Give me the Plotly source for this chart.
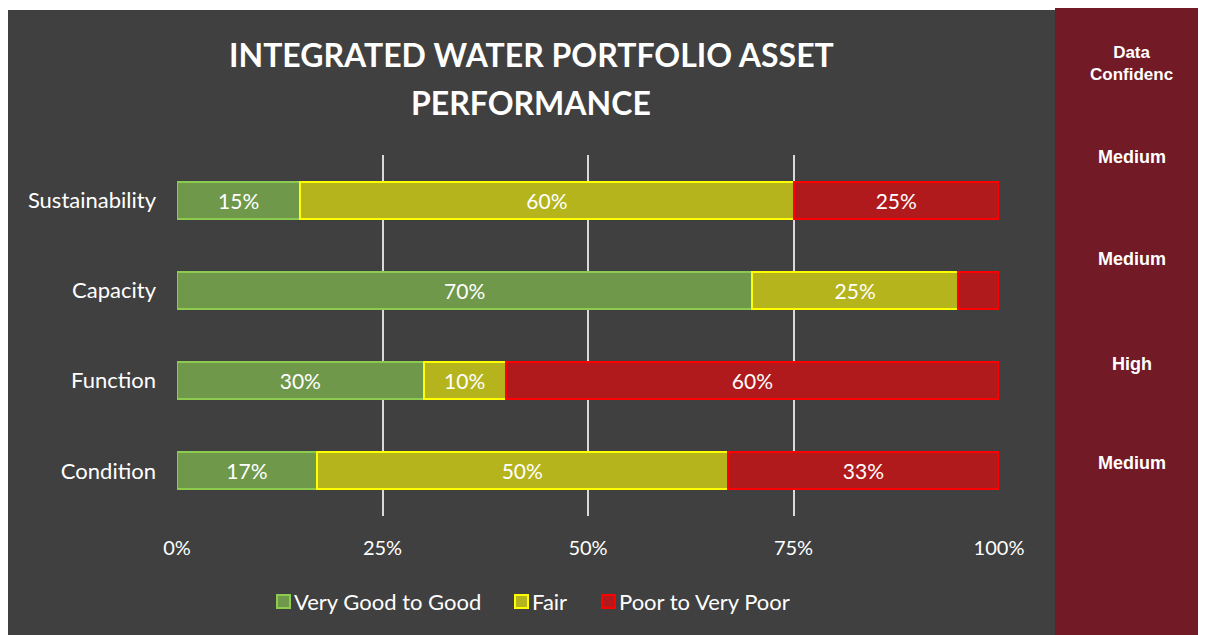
import plotly.graph_objects as go

categories = ["Sustainability", "Capacity", "Function", "Condition"]
good = [15, 70, 30, 17]
fair = [60, 25, 10, 50]
poor = [25, 5, 60, 33]
poor_labels = ["25%", "", "60%", "33%"]
series_names = ["Very Good to Good", "Fair", "Poor to Very Poor"]
confidence_title = "Data<br>Confidenc"
confidence = ["Medium", "Medium", "High", "Medium"]
tick_vals = [0, 25, 50, 75, 100]
tick_text = ["0%", "25%", "50%", "75%", "100%"]

OFF = 8  # page body margin
W, H = 1206 - OFF, 635 - OFF
L, T = 177 - OFF, 155 - OFF
R = W - (999 - OFF)
B = H - (516 - OFF)
pw, ph = W - L - R, H - T - B


def px_x(x):  # reference screen x -> paper
    return (x - OFF - L) / pw


def px_y(y):  # reference screen y -> paper
    return (H - B - (y - OFF)) / ph


FONT = "Lato"
fills = ["#70984A", "#B5B41C", "#B01A1C"]
lines = ["#8CCB4E", "#FFFF00", "#FF0000"]

fig = go.Figure()
data = [
    (good, [f"{v}%" for v in good]),
    (fair, [f"{v}%" for v in fair]),
    (poor, poor_labels),
]
for name, (vals, labels), fill, line in zip(series_names, data, fills, lines):
    fig.add_trace(go.Bar(
        y=categories, x=vals, name=name, orientation="h",
        marker=dict(color=fill, line=dict(color=line, width=2)),
        text=labels, textposition="inside", insidetextanchor="middle",
        textfont=dict(color="white", size=21, family=FONT),
        constraintext="none", showlegend=False,
    ))

shapes = [
    dict(type="rect", xref="paper", yref="paper", x0=px_x(8), x1=px_x(1055),
         y0=px_y(10), y1=px_y(0), fillcolor="white", line_width=0, layer="below"),
    dict(type="rect", xref="paper", yref="paper", x0=px_x(1055), x1=px_x(1210),
         y0=px_y(640), y1=px_y(0), fillcolor="#731A27", line_width=0, layer="below"),
]

annotations = []
# title
for txt, yy in [("INTEGRATED WATER PORTFOLIO ASSET", 54), ("PERFORMANCE", 102)]:
    annotations.append(dict(text=f"<b>{txt}</b>", x=px_x(531), y=px_y(yy), xref="paper", yref="paper",
                            showarrow=False, font=dict(family=FONT, size=32, color="white"),
                            xanchor="center", yanchor="middle"))
# confidence panel
annotations.append(dict(text=f"<b>{confidence_title}</b>", x=px_x(1131), y=px_y(63), xref="paper", yref="paper",
                        showarrow=False, font=dict(family="Liberation Sans", size=17, color="white"),
                        xanchor="center", yanchor="middle"))
for c, yy in zip(confidence, [157, 259, 364, 463]):
    annotations.append(dict(text=f"<b>{c}</b>", x=px_x(1132), y=px_y(yy), xref="paper", yref="paper",
                            showarrow=False, font=dict(family="Liberation Sans", size=18, color="white"),
                            xanchor="center", yanchor="middle"))

# manual legend
leg_x = [276, 514, 601]
leg_y = 601
for name, lx, fill, line in zip(series_names, leg_x, fills, lines):
    shapes.append(dict(type="rect", xref="paper", yref="paper",
                       x0=px_x(lx + 1), x1=px_x(lx + 14), y0=px_y(leg_y + 7), y1=px_y(leg_y - 6),
                       fillcolor=fill, line=dict(color=line, width=2)))
    annotations.append(dict(text=name, x=px_x(lx + 16), y=px_y(leg_y), xref="paper", yref="paper",
                            showarrow=False, font=dict(family=FONT, size=22, color="white"),
                            xanchor="left", yanchor="middle"))

fig.update_layout(
    width=W, height=H,
    margin=dict(l=L, r=R, t=T, b=B, autoexpand=False),
    paper_bgcolor="#404040", plot_bgcolor="rgba(0,0,0,0)",
    barmode="stack", bargap=0.59,
    font=dict(family=FONT, color="white"),
    xaxis=dict(range=[0, 100], tickvals=tick_vals, ticktext=tick_text,
               showgrid=True, gridcolor="#D9D9D9", gridwidth=2, zeroline=False,
               tickfont=dict(size=20, color="white", family=FONT), ticks="", ticklabelstandoff=18,
               showline=False),
    yaxis=dict(categoryorder="array", categoryarray=categories[::-1], showgrid=False,
               tickfont=dict(size=22, color="white", family=FONT), ticks="", ticklabelstandoff=20,
               showline=False),
    showlegend=False,
    shapes=shapes, annotations=annotations,
)
fig.write_html("out.html")
